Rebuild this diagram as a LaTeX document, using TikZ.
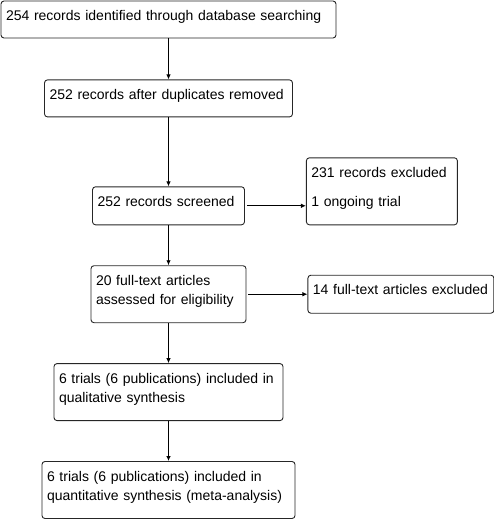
\documentclass[tikz,border=0pt]{standalone}
\usepackage{fontspec}
\setmainfont{Liberation Sans}
\usepackage{tikz}
\usetikzlibrary{arrows.meta, positioning}
\hyphenpenalty=10000
\exhyphenpenalty=10000

\begin{document}
\begin{tikzpicture}[
    node distance=40pt and 61pt,
    % estilos
    flow/.style={rectangle, draw=black!85, line width=0.9pt, rounded corners=3pt, inner xsep=5pt, inner ysep=5pt, align=left, text height=14.5pt, font=\fontsize{14pt}{19pt}\selectfont},
    oneline/.style={flow, text depth=#1},
    arrow/.style={-{Latex[length=5pt, width=4.5pt]}, line width=0.9pt, black}
]
\useasboundingbox (0,0) rectangle (494pt,-520pt);

% columna principal
\node[oneline=12.5pt, text width=325pt] (ident) at (168.5pt,-19.5pt) {254 records identified through database searching};
\node[oneline=12.5pt, text width=238pt, below=41pt of ident] (dupl) {252 records after duplicates removed};
\node[oneline=13.5pt, text width=142pt, below=69pt of dupl] (screen) {252 records screened};
\node[oneline=32.5pt, text width=145pt, below=of screen] (fulltext) {20 full-text articles\\assessed for eligibility};
\node[oneline=32.5pt, text width=219pt, below=of fulltext] (qual) {6 trials (6 publications) included in\\qualitative synthesis};
\node[oneline=32.5pt, text width=243pt, below=of qual] (quant) {6 trials (6 publications) included in\\quantitative synthesis (meta-analysis)};

% excluidos
\node[oneline=42.5pt, text width=141pt, right=61pt of screen.south east, anchor=south west] (excl) {231 records excluded\\[10pt]1 ongoing trial};
\node[oneline=13.5pt, text width=176pt, right=of fulltext] (exclft) {14 full-text articles excluded};

% flechas
\draw[arrow] (ident) -- (dupl);
\draw[arrow] (dupl) -- (screen);
\draw[arrow] (screen) -- (fulltext);
\draw[arrow] (fulltext) -- (qual);
\draw[arrow] (qual) -- (quant);
\draw[arrow, shorten <=2pt] (screen) -- (screen -| excl.west);
\draw[arrow, shorten <=2pt] (fulltext) -- (exclft);

\end{tikzpicture}
\end{document}
